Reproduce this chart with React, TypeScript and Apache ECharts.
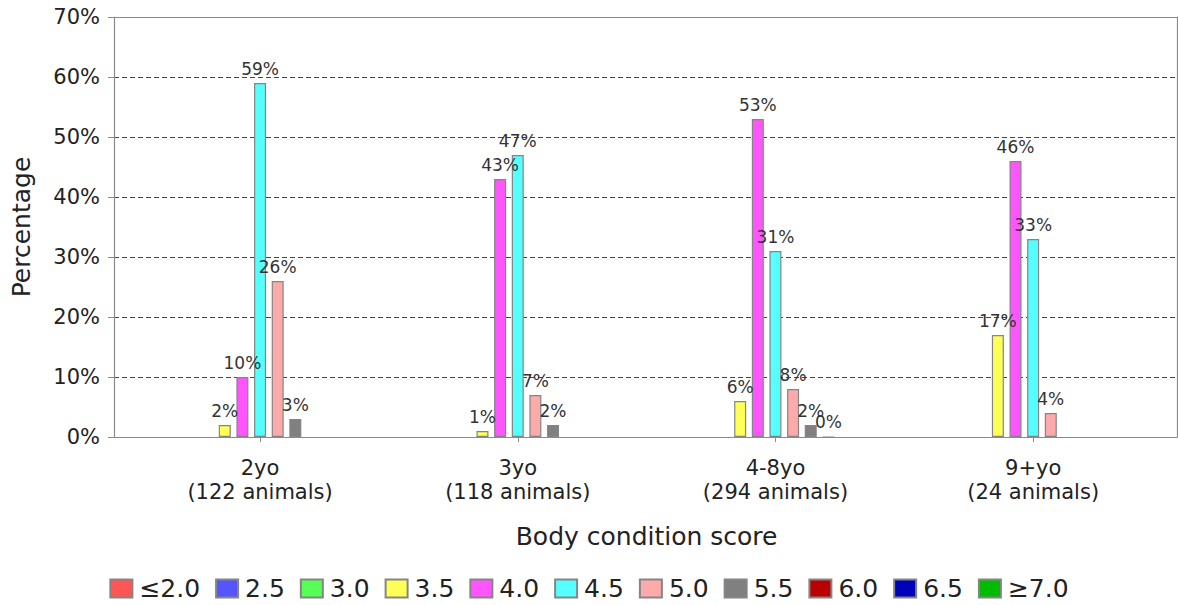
import React, { useEffect, useRef } from "react";
import * as echarts from "echarts";

const categories = ["2yo\n(122 animals)", "3yo\n(118 animals)", "4-8yo\n(294 animals)", "9+yo\n(24 animals)"];
const seriesNames = ["≤2.0", "2.5", "3.0", "3.5", "4.0", "4.5", "5.0", "5.5", "6.0", "6.5", "≥7.0"];
const seriesColors = ["#ff5555", "#5555ff", "#55ff55", "#ffff55", "#ff55ff", "#55ffff", "#ffaaaa", "#808080", "#bb0000", "#0000bb", "#00bb00"];

const vLe20 = [null, null, null, null];
const v25 = [null, null, null, null];
const v30 = [null, null, null, null];
const v35 = [2, 1, 6, 17];
const v40 = [10, 43, 53, 46];
const v45 = [59, 47, 31, 33];
const v50 = [26, 7, 8, 4];
const v55 = [3, 2, 2, null];
const v60 = [null, null, 0, null];
const v65 = [null, null, null, null];
const vGe70 = [null, null, null, null];
const seriesValues = [vLe20, v25, v30, v35, v40, v45, v50, v55, v60, v65, vGe70];

const yTicks = [0, 10, 20, 30, 40, 50, 60, 70];

const FONT = "DejaVu Sans";

export default function App() {
  const ref = useRef<HTMLDivElement>(null);
  useEffect(() => {
    if (!ref.current) return;
    const chart = echarts.init(ref.current, null, { renderer: "svg" });
    const option: any = {
      animation: false,
      textStyle: { fontFamily: FONT },
      grid: [
        { left: 114, top: 17, width: 1063, height: 420, containLabel: false },
        { left: 131.2, top: 17, width: 1030.8, height: 420, containLabel: false },
      ],
      xAxis: [
        {
          gridIndex: 0,
          type: "category",
          data: categories,
          position: "bottom",
          axisLine: { show: true, lineStyle: { color: "#8a8a8a", width: 1.2 } },
          axisTick: { show: false },
          axisLabel: { show: false },
          splitLine: { show: false },
        },
        {
          gridIndex: 0,
          type: "category",
          data: categories,
          position: "top",
          axisLine: { show: true, onZero: false, lineStyle: { color: "#8a8a8a", width: 1.2 } },
          axisTick: { show: false },
          axisLabel: { show: false },
        },
        {
          gridIndex: 1,
          type: "category",
          data: categories,
          position: "bottom",
          axisLine: { show: false },
          axisTick: { show: true, alignWithLabel: true, length: 5, lineStyle: { color: "#8a8a8a" } },
          axisLabel: {
            show: true,
            fontFamily: FONT,
            fontSize: 21,
            lineHeight: 24,
            color: "#222",
            margin: 19,
          },
          name: "Body condition score",
          nameLocation: "middle",
          nameGap: 87,
          nameTextStyle: { fontFamily: FONT, fontSize: 25, color: "#222" },
        },
      ],
      yAxis: [
        {
          gridIndex: 0,
          type: "value",
          min: 0,
          max: 70,
          interval: 10,
          axisLine: { show: true, lineStyle: { color: "#8a8a8a", width: 1.2 } },
          axisTick: { show: true, length: 6, lineStyle: { color: "#8a8a8a" } },
          axisLabel: {
            fontFamily: FONT,
            fontSize: 21,
            color: "#222",
            margin: 14,
            formatter: (v: number) => (yTicks.includes(v) ? v + "%" : ""),
          },
          splitLine: { show: true, lineStyle: { color: "#444", type: [5, 3], width: 1 } },
          name: "Percentage",
          nameLocation: "middle",
          nameGap: 80,
          nameRotate: 90,
          nameTextStyle: { fontFamily: FONT, fontSize: 25, color: "#222" },
        },
        {
          gridIndex: 0,
          type: "value",
          min: 0,
          max: 70,
          interval: 10,
          position: "right",
          axisLine: { show: true, lineStyle: { color: "#8a8a8a", width: 1.2 } },
          axisTick: { show: false },
          axisLabel: { show: false },
          splitLine: { show: false },
        },
        {
          gridIndex: 1,
          type: "value",
          min: 0,
          max: 70,
          interval: 10,
          show: false,
          splitLine: { show: false },
        },
      ],
      legend: {
        top: 571,
        left: "center",
        icon: "rect",
        itemWidth: 22,
        itemHeight: 18,
        itemGap: 15,
        textStyle: { fontFamily: FONT, fontSize: 25, color: "#222", padding: [0, 0, 0, 2] },
        data: seriesNames,
      },
      series: seriesNames.map((name, i) => ({
        name,
        type: "bar",
        xAxisIndex: 2,
        yAxisIndex: 2,
        data: seriesValues[i],
        barWidth: 12,
        barGap: "47%",
        itemStyle: { color: seriesColors[i], borderColor: "#858585", borderWidth: 1.2 },
        label: {
          show: true,
          position: "top",
          distance: 6,
          fontFamily: FONT,
          fontSize: 17,
          color: "#333",
          formatter: (p: any) => (p.value === null || p.value === undefined ? "" : p.value + "%"),
        },
      })),
    };
    chart.setOption(option);
    return () => chart.dispose();
  }, []);
  return (
    <div
      ref={ref}
      style={{ position: "fixed", left: 0, top: 0, width: 1178, height: 605, background: "#fff" }}
    />
  );
}
